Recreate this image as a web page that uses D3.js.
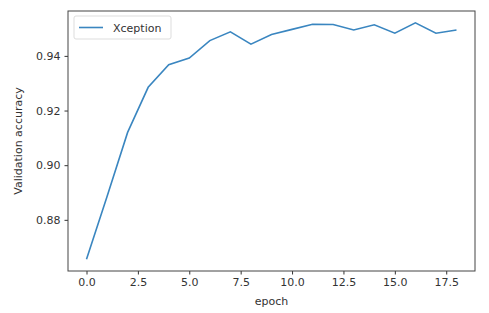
<!DOCTYPE html>
<meta charset="utf-8">
<script src="https://d3js.org/d3.v7.min.js"></script>
<style>
	body{ margin:0; background:#fff; font-family:'DejaVu Sans', sans-serif; }
	text{ fill:#333; }
</style>
<div id="chart"></div>
<script>

// validation accuracy per epoch
var epochs = [0,1,2,3,4,5,6,7,8,9,10,11,12,13,14,15,16,17,18]
var accuracy = [0.8656,0.8885,0.912,0.9285,0.9368,0.9392,0.9456,0.9488,0.9443,0.9478,0.9497,0.9516,0.9515,0.9495,0.9514,0.9483,0.9521,0.9483,0.9495]
var xTicks = [0,2.5,5,7.5,10,12.5,15,17.5]
var yTicks = [0.88,0.90,0.92,0.94]
var seriesName = "Xception"

var w = 489
var h = 313
var plotL = 68, plotR = 475, plotT = 11, plotB = 271

var svg = d3.select("#chart").append("svg").attr("width",w).attr("height",h)

// matplotlib style 5% margins
var xPad = (d3.max(epochs)-d3.min(epochs))*0.05
var yPad = (d3.max(accuracy)-d3.min(accuracy))*0.05
var x = d3.scaleLinear().domain([d3.min(epochs)-xPad, d3.max(epochs)+xPad]).range([plotL,plotR])
var y = d3.scaleLinear().domain([d3.min(accuracy)-yPad, d3.max(accuracy)+yPad]).range([plotB,plotT])

var xAxis = svg.append("g").attr("transform","translate(0,"+plotB+")")
	.call(d3.axisBottom(x).tickValues(xTicks).tickSize(3.5).tickPadding(4).tickFormat(d3.format(".1f")))
var yAxis = svg.append("g").attr("transform","translate("+plotL+",0)")
	.call(d3.axisLeft(y).tickValues(yTicks).tickSize(3.5).tickPadding(4).tickFormat(d3.format(".2f")))

svg.selectAll(".domain").remove()
svg.selectAll(".tick line").attr("stroke","#333")
svg.selectAll(".tick text").style("font-size","11px").style("font-family","'DejaVu Sans', sans-serif").attr("fill","#333")

// frame
svg.append("rect").attr("x",plotL).attr("y",plotT).attr("width",plotR-plotL).attr("height",plotB-plotT)
	.attr("fill","none").attr("stroke","#444").attr("stroke-width",1)

var line = d3.line().x(function(d,i){return x(epochs[i])}).y(function(d){return y(d)})
svg.append("path").datum(accuracy).attr("d",line)
	.attr("fill","none").attr("stroke","#3a86c0").attr("stroke-width",1.6)

svg.append("text").text("epoch").attr("x",(plotL+plotR)/2).attr("y",305)
	.attr("text-anchor","middle").style("font-size","11px")
svg.append("text").text("Validation accuracy")
	.attr("transform","translate(22,"+((plotT+plotB)/2)+") rotate(-90)")
	.attr("text-anchor","middle").style("font-size","11px")

// legend
var lg = svg.append("g")
lg.append("rect").attr("x",74).attr("y",16).attr("width",97).attr("height",23).attr("rx",2)
	.attr("fill","#fff").attr("stroke","#ddd")
lg.append("line").attr("x1",79).attr("x2",103).attr("y1",27.5).attr("y2",27.5)
	.attr("stroke","#3a86c0").attr("stroke-width",1.6)
lg.append("text").text(seriesName).attr("x",113).attr("y",31.5).style("font-size","11px")

</script>
